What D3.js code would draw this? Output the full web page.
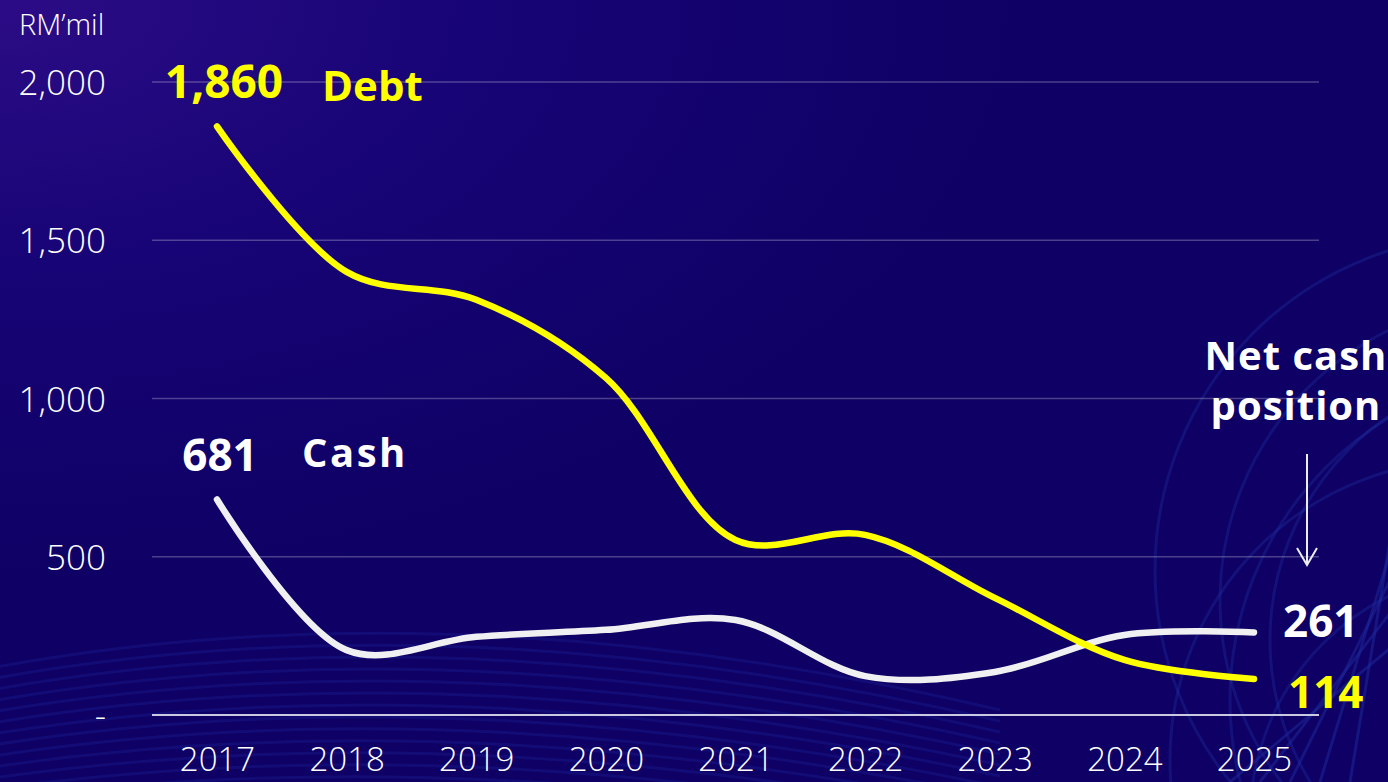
<!DOCTYPE html>
<html>
<head>
<meta charset="utf-8">
<script src="https://cdn.jsdelivr.net/npm/d3@7/dist/d3.min.js"></script>
<style>
  html, body { margin: 0; padding: 0; background: #0f0066; }
  svg { display: block; }
</style>
</head>
<body>
<svg id="chart" width="1388" height="782"></svg>
<script>
// Debt vs cash, RM'mil, 2017-2025
const years = ["2017", "2018", "2019", "2020", "2021", "2022", "2023", "2024", "2025"];
const debt = [1860, 1400, 1312, 1065, 553, 569, 370, 174, 114];
const cash = [681, 205, 247, 269, 300, 123, 136, 253, 261];
const yTicks = [0, 500, 1000, 1500, 2000];
const yTickLabels = ["-", "500", "1,000", "1,500", "2,000"];

const W = 1388, H = 782;
const svg = d3.select("#chart");
const defs = svg.append("defs");

// Background: deep navy with a violet glow in the upper-left corner
const bg = defs.append("radialGradient").attr("id", "bg")
  .attr("cx", "0%").attr("cy", "0%").attr("r", "75%");
bg.append("stop").attr("offset", "0%").attr("stop-color", "#2c0c86");
bg.append("stop").attr("offset", "45%").attr("stop-color", "#170476");
bg.append("stop").attr("offset", "100%").attr("stop-color", "#0e0064");
svg.append("rect").attr("width", W).attr("height", H).attr("fill", "url(#bg)");

// Decorative wave lines along the bottom-left
const deco = svg.append("g").attr("fill", "none");
for (let i = 0; i < 14; i++) {
  const y0 = 650 + i * 11;
  deco.append("path")
    .attr("d", `M -20 ${y0 + 20} Q 450 ${y0 - 70 + i * 2} 1000 ${y0 + 60}`)
    .attr("stroke", "#1c2399").attr("stroke-opacity", 0.35).attr("stroke-width", 3);
}
// Decorative wireframe arcs on the right
const arcs = [
  [1490, 570, 335], [1520, 600, 300], [1540, 640, 270], [1470, 760, 300],
  [1560, 700, 330], [1500, 820, 250]
];
arcs.forEach(([cx, cy, r]) => {
  deco.append("circle").attr("cx", cx).attr("cy", cy).attr("r", r)
    .attr("stroke", "#1d2a9e").attr("stroke-opacity", 0.4).attr("stroke-width", 3);
});
for (let i = 0; i < 5; i++) {
  deco.append("path")
    .attr("d", `M ${1230 + i * 30} 782 L ${1400} ${640 - i * 40}`)
    .attr("stroke", "#1d2a9e").attr("stroke-opacity", 0.5).attr("stroke-width", 3);
}

const x = d3.scalePoint().domain(years).range([217, 1254]);
const y = d3.scaleLinear().domain([0, 2000]).range([715, 82]);
const plotLeft = 152, plotRight = 1319;

// Gridlines
svg.append("g").selectAll("line")
  .data(yTicks.filter(d => d > 0))
  .join("line")
  .attr("x1", plotLeft).attr("x2", plotRight)
  .attr("y1", d => y(d)).attr("y2", d => y(d))
  .attr("stroke", "#ffffff").attr("stroke-opacity", 0.25).attr("stroke-width", 1.5);

// Baseline
svg.append("line")
  .attr("x1", plotLeft).attr("x2", plotRight)
  .attr("y1", y(0)).attr("y2", y(0))
  .attr("stroke", "#c9c9e2").attr("stroke-width", 2);

const font = "'Century Gothic', 'Open Sans', 'DejaVu Sans', sans-serif";

// Y axis labels
const yAxis = d3.axisLeft(y).tickValues(yTicks)
  .tickFormat((d, i) => yTickLabels[i]).tickSize(0).tickPadding(0);
const gy = svg.append("g").attr("transform", "translate(106,0)").call(yAxis);
gy.select(".domain").remove();
gy.selectAll("text")
  .attr("fill", "#ffffff").attr("font-family", font).attr("font-size", 35)
  .attr("font-weight", 300).attr("dy", "0.36em");

// X axis labels
const xAxis = d3.axisBottom(x).tickSize(0).tickPadding(0);
const gx = svg.append("g").attr("transform", "translate(0,771)").call(xAxis);
gx.select(".domain").remove();
gx.selectAll("text")
  .attr("fill", "#ffffff").attr("font-family", font).attr("font-size", 33)
  .attr("font-weight", 300).attr("dy", 0).attr("y", 0);

// Unit label
svg.append("text").attr("x", 19).attr("y", 35)
  .attr("fill", "#ffffff").attr("font-family", font).attr("font-size", 29)
  .attr("font-weight", 300).text("RM\u2019mil");

// Lines
const line = d3.line()
  .x((d, i) => x(years[i]))
  .y(d => y(d))
  .curve(d3.curveCatmullRom.alpha(0.5));

svg.append("path").datum(cash).attr("d", line)
  .attr("fill", "none").attr("stroke", "#f0f0f2").attr("stroke-width", 6.5)
  .attr("stroke-linecap", "round");
svg.append("path").datum(debt).attr("d", line)
  .attr("fill", "none").attr("stroke", "#ffff00").attr("stroke-width", 6.5)
  .attr("stroke-linecap", "round");

// Value and series labels
function label(txt, xx, yy, color, size, anchor, spacing) {
  svg.append("text").attr("x", xx).attr("y", yy)
    .attr("fill", color).attr("font-family", font).attr("font-size", size)
    .attr("font-weight", 700).attr("text-anchor", anchor || "start")
    .attr("letter-spacing", spacing || 0).text(txt);
}
const fmt = d3.format(",");
label(fmt(debt[0]), 224, 98, "#ffff00", 46, "middle");
label("Debt", 322, 101, "#ffff00", 42);
label(fmt(cash[0]), 220, 471, "#ffffff", 44, "middle");
label("Cash", 302, 467, "#ffffff", 40, "start", 2.5);
label(fmt(cash[8]), 1283, 637, "#ffffff", 44);
label(fmt(debt[8]), 1288, 708, "#ffff00", 44);
label("Net cash", 1296, 370, "#ffffff", 40, "middle", 1);
label("position", 1296, 420, "#ffffff", 40, "middle", 1);

// Arrow pointing to the net cash gap
svg.append("line")
  .attr("x1", 1307).attr("x2", 1307).attr("y1", 454).attr("y2", 565)
  .attr("stroke", "#ececf2").attr("stroke-width", 2);
svg.append("path").attr("d", "M1297 548 L1307 565 L1317 548")
  .attr("fill", "none").attr("stroke", "#ececf2").attr("stroke-width", 2);
</script>
</body>
</html>
